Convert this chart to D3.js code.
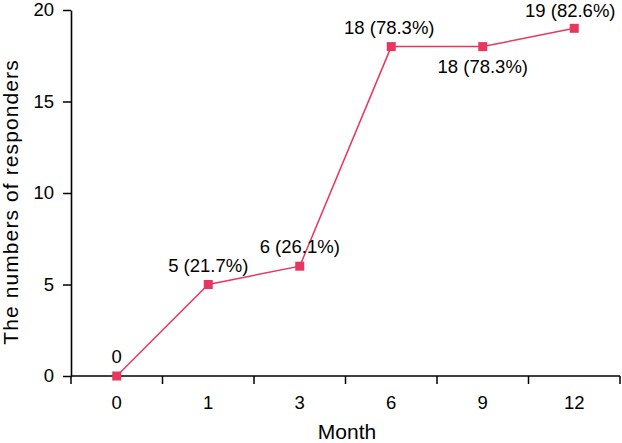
<!DOCTYPE html>
<html><head><meta charset="utf-8">
<script src="https://cdn.jsdelivr.net/npm/d3@7"></script>
<style>body{margin:0;background:#fff}svg{display:block}text{font-family:"Liberation Sans",Arial,sans-serif}</style>
</head><body>
<script>
const months = ["0","1","3","6","9","12"];
const responders = [0,5,6,18,18,19];
const pointLabels = ["0","5 (21.7%)","6 (26.1%)","18 (78.3%)","18 (78.3%)","19 (82.6%)"];
const labelBelow = [false,false,false,false,true,false];
const yTicks = [0,5,10,15,20];

const W=622,H=443;
const svg=d3.select("body").append("svg").attr("width",W).attr("height",H);
const x=d3.scaleBand().domain(months).range([71,620]);
const y=d3.scaleLinear().domain([0,20]).range([376,10]);
const color="#e8375e";

const xAxis=svg.append("g").attr("transform","translate(0,376)")
  .call(d3.axisBottom(x).tickSize(0).tickPadding(20));
xAxis.select(".domain").attr("stroke","#000").attr("stroke-width",1.6).attr("d","M71,0H620");
xAxis.selectAll("text").attr("font-size",18.5).attr("fill","#000");
const bounds=months.map(m=>x(m)).concat([x.range()[1]]);
xAxis.selectAll("line.bt").data(bounds).enter().append("line").attr("class","bt")
  .attr("x1",d=>d).attr("x2",d=>d).attr("y1",0).attr("y2",8).attr("stroke","#000").attr("stroke-width",1.5);

const yAxis=svg.append("g").attr("transform","translate(71,0)")
  .call(d3.axisLeft(y).tickValues(yTicks).tickSize(8).tickPadding(9).tickSizeOuter(0));
yAxis.select(".domain").attr("stroke","#000").attr("stroke-width",1.6);
yAxis.selectAll("line").attr("stroke","#000").attr("stroke-width",1.5);
yAxis.selectAll("text").attr("font-size",18.5).attr("fill","#000");

svg.append("text").attr("transform","translate(18,202) rotate(-90)").attr("text-anchor","middle")
  .attr("font-size",21).attr("letter-spacing",1.1).attr("fill","#000").text("The numbers of responders");
svg.append("text").attr("x",347).attr("y",439).attr("text-anchor","middle")
  .attr("font-size",21).attr("fill","#000").text("Month");

const data=months.map((m,i)=>({m,v:responders[i],l:pointLabels[i],b:labelBelow[i]}));
const cx=d=>x(d.m)+x.bandwidth()/2;
svg.append("path").datum(data).attr("fill","none").attr("stroke",color).attr("stroke-width",1.5)
  .attr("d",d3.line().x(cx).y(d=>y(d.v)));
svg.selectAll("rect.pt").data(data).enter().append("rect").attr("class","pt")
  .attr("x",d=>cx(d)-4.5).attr("y",d=>y(d.v)-4.5).attr("width",9).attr("height",9).attr("fill",color);
svg.selectAll("text.pl").data(data).enter().append("text").attr("class","pl")
  .attr("x",(d,i)=>cx(d)+(i===5?-4:i===3?-2:0)).attr("y",(d,i)=>d.b?y(d.v)+26:y(d.v)-(i===5?11:13))
  .attr("text-anchor","middle").attr("font-size",18.5).attr("fill","#000").text(d=>d.l);
</script>
</body></html>
